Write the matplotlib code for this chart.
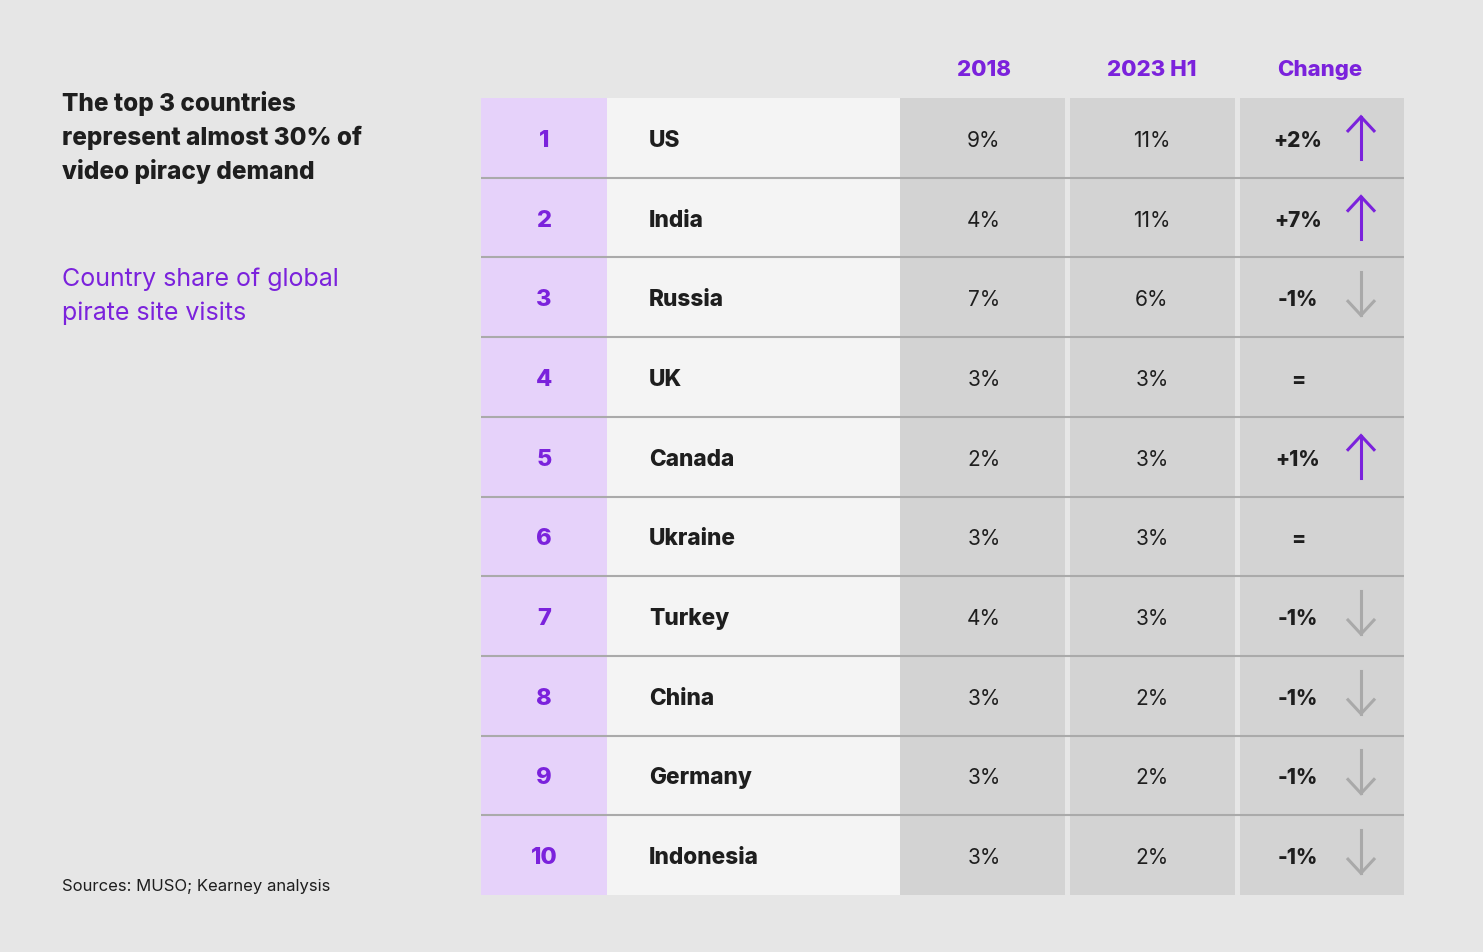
import matplotlib
matplotlib.use("Agg")
from matplotlib import pyplot as plt
from matplotlib.patches import Rectangle

ranks = ["1", "2", "3", "4", "5", "6", "7", "8", "9", "10"]
countries = ["US", "India", "Russia", "UK", "Canada", "Ukraine", "Turkey", "China", "Germany", "Indonesia"]
share_2018 = [9, 4, 7, 3, 2, 3, 4, 3, 3, 3]
share_2023 = [11, 11, 6, 3, 3, 3, 3, 2, 2, 2]
change_labels = ["+2%", "+7%", "-1%", "=", "+1%", "=", "-1%", "-1%", "-1%", "-1%"]
headers = ["2018", "2023 H1", "Change"]
title_lines = ["The top 3 countries", "represent almost 30% of", "video piracy demand"]
subtitle_lines = ["Country share of global", "pirate site visits"]
source = "Sources: MUSO; Kearney analysis"

BG = "#e6e6e6"
PURPLE = "#7b22dc"
LAVENDER = "#e6d2fa"
LIGHT = "#f4f4f4"
GREY_CELL = "#d3d3d3"
LINE = "#aaaaaa"
ARROW_GREY = "#a9a9a9"
DARK = "#1e1e1e"
FONT = "Inter"
HEAVY = 800

W, H = 1483, 953
fig = plt.figure(figsize=(W / 100, H / 100), dpi=100, facecolor=BG)
ax = fig.add_axes([0, 0, 1, 1])
ax.set_xlim(0, W)
ax.set_ylim(H, 0)
ax.axis("off")

# table geometry (pixels)
top, row_h = 99, 79.7
cols = [(481, 607, LAVENDER), (607, 900, LIGHT), (900, 1065, GREY_CELL),
        (1070, 1235, GREY_CELL), (1240, 1404, GREY_CELL)]
n = len(countries)
bottom = top + n * row_h

for x0, x1, c in cols:
    ax.add_patch(Rectangle((x0, top), x1 - x0, bottom - top, facecolor=c, edgecolor="none"))

for i in range(1, n):
    y = top + i * row_h
    ax.plot([481, 1404], [y, y], color=LINE, lw=1.5, solid_capstyle="butt")

# headers
for hx, h in zip([984, 1152, 1320], headers):
    ax.text(hx, 70, h, ha="center", va="center", fontsize=16, fontweight=HEAVY,
            color=PURPLE, family=FONT)

for i in range(n):
    yc = top + (i + 0.5) * row_h
    yt = yc + 2
    ax.text(544, yt, ranks[i], ha="center", va="center", fontsize=17,
            fontweight=HEAVY, color=PURPLE, family=FONT)
    ax.text(649, yt, countries[i], ha="left", va="center", fontsize=16.3,
            fontweight=HEAVY, color=DARK, family=FONT)
    ax.text(984, yt, f"{share_2018[i]}%", ha="center", va="center", fontsize=15,
            color=DARK, family=FONT)
    ax.text(1152, yt, f"{share_2023[i]}%", ha="center", va="center", fontsize=15,
            color=DARK, family=FONT)
    ax.text(1298, yt, change_labels[i], ha="center", va="center", fontsize=15,
            fontweight=HEAVY, color=DARK, family=FONT)

    # change arrow: up = purple, down = grey, none for "="
    diff = share_2023[i] - share_2018[i]
    arrow_x = 1361
    if diff > 0:
        y_tip, y_end = yc - 21, yc + 21
        ax.plot([arrow_x, arrow_x], [y_end, y_tip], color=PURPLE, lw=2.2)
        ax.plot([arrow_x - 13, arrow_x, arrow_x + 13], [y_tip + 14, y_tip, y_tip + 14],
                color=PURPLE, lw=2.2, solid_joinstyle="miter")
    elif diff < 0:
        y_tip, y_end = yc + 18, yc - 25
        ax.plot([arrow_x, arrow_x], [y_end, y_tip], color=ARROW_GREY, lw=2.2)
        ax.plot([arrow_x - 13, arrow_x, arrow_x + 13], [y_tip - 14, y_tip, y_tip - 14],
                color=ARROW_GREY, lw=2.2, solid_joinstyle="miter")

# left-hand text
for j, line in enumerate(title_lines):
    ax.text(62, 104 + j * 33.5, line, ha="left", va="center", fontsize=17.5,
            fontweight=HEAVY, color=DARK, family=FONT)
for j, line in enumerate(subtitle_lines):
    ax.text(62, 279 + j * 34, line, ha="left", va="center", fontsize=18,
            color=PURPLE, family=FONT)
ax.text(62, 887, source, ha="left", va="center", fontsize=12, color=DARK, family=FONT)

fig.savefig("out.png", dpi=100, facecolor=BG)
